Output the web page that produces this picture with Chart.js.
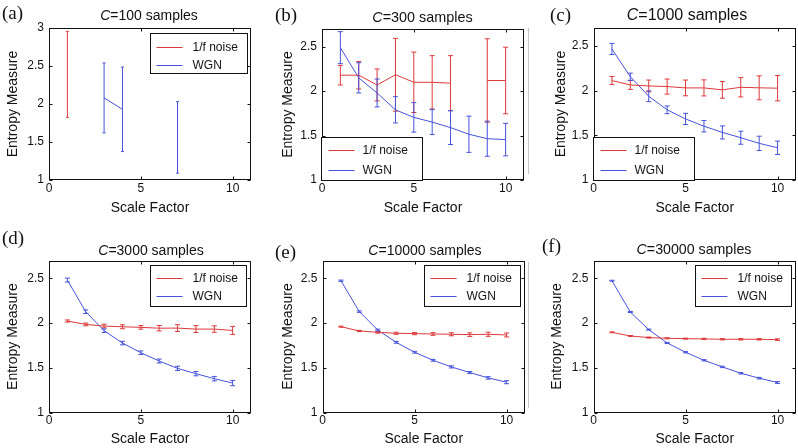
<!DOCTYPE html>
<html>
<head>
<meta charset="utf-8">
<script src="https://cdn.jsdelivr.net/npm/chart.js@4.4.1/dist/chart.umd.min.js"></script>
<style>
  html, body { margin: 0; padding: 0; background: #fff; }
  #fig { position: relative; width: 798px; height: 448px; overflow: hidden; font-family: 'Liberation Sans', Arial, sans-serif; }
  #fig canvas { position: absolute; }
  .ttl { position: absolute; width: 200px; text-align: center; line-height: 20px; color: #111; white-space: nowrap; }
  .tag { position: absolute; font-family: 'Liberation Serif', 'Times New Roman', serif; font-size: 19px; line-height: 20px; color: #111; }
  .edge { position: absolute; width: 1px; background: #c4c4c4; }
</style>
</head>
<body>
<div id="fig"></div>
<script>
/* ---- data ---- */
const scaleFactor = [1, 2, 3, 4, 5, 6, 7, 8, 9, 10];
const xTicks      = [0, 5, 10];
const yTicksTall  = [1, 1.5, 2, 2.5, 3];
const yTicks      = [1, 1.5, 2, 2.5];

// C = 100
const noise100     = [2.39, null, null, null, null, null, null, null, null, null];
const noise100Err  = [0.565, null, null, null, null, null, null, null, null, null];
const wgn100       = [null, null, 2.08, 1.93, null, null, 1.56, null, null, null];
const wgn100Err    = [null, null, 0.46, 0.556, null, null, 0.47, null, null, null];

// C = 300
const noise300     = [2.18, 2.18, 2.07, 2.185, 2.10, 2.10, 2.09, null, 2.12, 2.12];
const noise300Err  = [0.11, 0.155, 0.18, 0.41, 0.34, 0.30, 0.31, null, 0.47, 0.375];
const wgn300       = [2.49, 2.15, 1.98, 1.79, 1.705, 1.652, 1.59, 1.515, 1.465, 1.455];
const wgn300Err    = [0.18, 0.17, 0.157, 0.148, 0.166, 0.14, 0.19, 0.204, 0.198, 0.183];

// C = 1000
const noise1000    = [2.112, 2.063, 2.052, 2.045, 2.03, 2.03, 2.008, 2.037, 2.031, 2.027];
const noise1000Err = [0.045, 0.05, 0.066, 0.084, 0.088, 0.09, 0.093, 0.108, 0.134, 0.142];
const wgn1000      = [2.466, 2.155, 1.937, 1.785, 1.683, 1.602, 1.532, 1.473, 1.41, 1.36];
const wgn1000Err   = [0.062, 0.04, 0.06, 0.043, 0.063, 0.064, 0.073, 0.073, 0.08, 0.075];

// C = 3000
const noise3000    = [2.024, 1.986, 1.968, 1.96, 1.953, 1.944, 1.945, 1.934, 1.934, 1.919];
const noise3000Err = [0.012, 0.015, 0.02, 0.022, 0.02, 0.03, 0.038, 0.038, 0.036, 0.045];
const wgn3000      = [2.481, 2.128, 1.916, 1.778, 1.67, 1.577, 1.495, 1.436, 1.38, 1.331];
const wgn3000Err   = [0.022, 0.02, 0.02, 0.02, 0.02, 0.022, 0.024, 0.024, 0.025, 0.03];

// C = 10000
const noise10000    = [1.96, 1.912, 1.897, 1.886, 1.882, 1.878, 1.875, 1.871, 1.875, 1.867];
const noise10000Err = [0.006, 0.007, 0.01, 0.012, 0.012, 0.015, 0.017, 0.02, 0.023, 0.022];
const wgn10000      = [2.474, 2.128, 1.923, 1.785, 1.674, 1.584, 1.51, 1.447, 1.387, 1.339];
const wgn10000Err   = [0.007, 0.008, 0.01, 0.01, 0.01, 0.01, 0.012, 0.012, 0.014, 0.017];

// C = 30000
const noise30000    = [1.897, 1.856, 1.838, 1.83, 1.826, 1.823, 1.819, 1.819, 1.819, 1.815];
const noise30000Err = [0.005, 0.005, 0.006, 0.006, 0.006, 0.007, 0.007, 0.008, 0.008, 0.009];
const wgn30000      = [2.474, 2.124, 1.927, 1.778, 1.674, 1.584, 1.51, 1.439, 1.384, 1.335];
const wgn30000Err   = [0.005, 0.006, 0.006, 0.006, 0.007, 0.007, 0.008, 0.008, 0.009, 0.01];

const RED  = '#dc3a3a';
const BLUE = '#4653da';
const FONT = "'Liberation Sans', Arial, sans-serif";

/* ---- panel layout (canvas box, plot area inside it, text spots) ---- */
const legendNE = { corner: 'ne', dx: 5, dy: 4.5, w: 96, h: 41, rows: [12, 30], line: [6, 32], text: 42 };
const legendSW = { corner: 'sw', dx: -1, dy: 0, w: 101, h: 43, rows: [12, 32], line: [7, 33], text: 41 };

const panels = [
  { tag: '(a)', n: '100',   x: 0,   y: 0,   w: 262, h: 222, area: { l: 49,   r: 251, t: 28,   b: 180 },   yTitleX: 12.8, xTitleY: 208,
    yMax: 3, yt: yTicksTall, noise: noise100, noiseErr: noise100Err, wgn: wgn100, wgnErr: wgn100Err, cap: 1.5,
    legend: { ...legendNE, dx: 4.3, dy: 5, w: 97, h: 40, rows: [13, 31] },
    title: { cx: 149, cy: 15, size: 14 }, tagPos: { x: 2, cy: 13.3 } },
  { tag: '(b)', n: '300',   x: 262, y: 0,   w: 264, h: 222, area: { l: 60,   r: 262, t: 29,   b: 180 },   yTitleX: 26,   xTitleY: 208,
    yMax: 2.7, yt: yTicks, noise: noise300, noiseErr: noise300Err, wgn: wgn300, wgnErr: wgn300Err, cap: 2.5,
    legend: legendSW, title: { cx: 422.5, cy: 16.5, size: 14.4 }, tagPos: { x: 275, cy: 15 } },
  { tag: '(c)', n: '1000',  x: 526, y: 0,   w: 272, h: 222, area: { l: 67.5, r: 270, t: 28,   b: 180 },   yTitleX: 35,   xTitleY: 208,
    yMax: 2.7, yt: yTicks, noise: noise1000, noiseErr: noise1000Err, wgn: wgn1000, wgnErr: wgn1000Err, cap: 2.5,
    legend: legendSW, title: { cx: 687, cy: 15.3, size: 16 }, tagPos: { x: 550, cy: 15 } },
  { tag: '(d)', n: '3000',  x: 0,   y: 222, w: 262, h: 226, area: { l: 49,   r: 251, t: 38.5, b: 190.7 }, yTitleX: 12.8, xTitleY: 218,
    yMax: 2.7, yt: yTicks, noise: noise3000, noiseErr: noise3000Err, wgn: wgn3000, wgnErr: wgn3000Err, cap: 2.5,
    legend: legendNE, title: { cx: 151, cy: 249.5, size: 14 }, tagPos: { x: 2, cy: 238.3 } },
  { tag: '(e)', n: '10000', x: 262, y: 222, w: 264, h: 226, area: { l: 60.5, r: 263, t: 38.5, b: 190.5 }, yTitleX: 26,   xTitleY: 218,
    yMax: 2.7, yt: yTicks, noise: noise10000, noiseErr: noise10000Err, wgn: wgn10000, wgnErr: wgn10000Err, cap: 2.5,
    legend: legendNE, title: { cx: 425, cy: 250, size: 14 }, tagPos: { x: 275, cy: 251.7 } },
  { tag: '(f)', n: '30000', x: 526, y: 222, w: 272, h: 226, area: { l: 67.5, r: 270, t: 38.5, b: 190.5 }, yTitleX: 31.5, xTitleY: 218,
    yMax: 2.7, yt: yTicks, noise: noise30000, noiseErr: noise30000Err, wgn: wgn30000, wgnErr: wgn30000Err, cap: 2.5,
    legend: legendNE, title: { cx: 694, cy: 249, size: 14.2 }, tagPos: { x: 542, cy: 246 } },
];

/* ---- error bars, boxed axes with inward ticks, legend ---- */
const matlabAxes = {
  id: 'matlabAxes',
  afterDatasetsDraw(chart, args, opts) {
    const { ctx, chartArea: a, scales: { x, y } } = chart;

    chart.data.datasets.forEach(ds => {
      ctx.save();
      ctx.strokeStyle = ds.borderColor;
      ctx.lineWidth = 1;
      ds.data.forEach((pt, j) => {
        if (pt.y == null || ds.err[j] == null) return;
        const px = x.getPixelForValue(pt.x);
        const y0 = y.getPixelForValue(pt.y - ds.err[j]);
        const y1 = y.getPixelForValue(pt.y + ds.err[j]);
        ctx.beginPath();
        ctx.moveTo(px, y0); ctx.lineTo(px, y1);
        ctx.moveTo(px - opts.cap, y0); ctx.lineTo(px + opts.cap, y0);
        ctx.moveTo(px - opts.cap, y1); ctx.lineTo(px + opts.cap, y1);
        ctx.stroke();
      });
      ctx.restore();
    });

    // axes box + ticks pointing inside
    const L = Math.round(a.left) + 0.5, R = Math.round(a.right) - 0.5;
    const T = Math.round(a.top) + 0.5,  B = Math.round(a.bottom) - 0.5;
    ctx.save();
    ctx.strokeStyle = '#111';
    ctx.lineWidth = 1;
    ctx.strokeRect(L, T, R - L, B - T);
    ctx.beginPath();
    x.ticks.forEach(t => {
      const px = Math.round(x.getPixelForValue(t.value)) + 0.5;
      ctx.moveTo(px, B); ctx.lineTo(px, B - 3);
      ctx.moveTo(px, T); ctx.lineTo(px, T + 3);
    });
    y.ticks.forEach(t => {
      const py = Math.round(y.getPixelForValue(t.value)) + 0.5;
      ctx.moveTo(L, py); ctx.lineTo(L + 3, py);
      ctx.moveTo(R, py); ctx.lineTo(R - 3, py);
    });
    ctx.stroke();

    // legend
    const lg = opts.legend;
    const bx = lg.corner === 'ne' ? a.right - lg.dx - lg.w : a.left + lg.dx;
    const by = lg.corner === 'ne' ? a.top + lg.dy : a.bottom - lg.dy - lg.h;
    const X = Math.round(bx) + 0.5, Y = Math.round(by) + 0.5;
    ctx.fillStyle = '#fff';
    ctx.fillRect(X, Y, lg.w, lg.h);
    ctx.strokeStyle = '#111';
    ctx.strokeRect(X, Y, lg.w, lg.h);
    ctx.font = `12px ${FONT}`;
    ctx.textBaseline = 'middle';
    ctx.textAlign = 'left';
    chart.data.datasets.forEach((ds, i) => {
      const ry = Math.round(Y + lg.rows[i]) + 0.5;
      ctx.strokeStyle = ds.borderColor;
      ctx.beginPath();
      ctx.moveTo(X + lg.line[0], ry); ctx.lineTo(X + lg.line[1], ry);
      ctx.stroke();
      ctx.fillStyle = '#111';
      ctx.fillText(ds.label, X + lg.text, ry);
    });
    ctx.restore();
  }
};

const toPoints = (vals) => scaleFactor.map((sf, i) => ({ x: sf, y: vals[i] }));

const makePanel = (p) => {
  const fig = document.getElementById('fig');
  const cv  = document.createElement('canvas');
  cv.width = p.w; cv.height = p.h;
  cv.style.left = p.x + 'px';
  cv.style.top  = p.y + 'px';
  fig.appendChild(cv);

  const padLeft   = p.yTitleX - 8.4;
  const padBottom = Math.max(0, p.h - p.xTitleY - 8.4);

  new Chart(cv, {
    type: 'line',
    data: {
      datasets: [
        { label: '1/f noise', data: toPoints(p.noise), err: p.noiseErr, borderColor: RED,  borderWidth: 1, pointRadius: 0, tension: 0, fill: false },
        { label: 'WGN',       data: toPoints(p.wgn),   err: p.wgnErr,   borderColor: BLUE, borderWidth: 1, pointRadius: 0, tension: 0, fill: false },
      ]
    },
    options: {
      responsive: false,
      animation: false,
      devicePixelRatio: 1,
      layout: { padding: { left: padLeft, top: p.area.t, right: p.w - p.area.r, bottom: padBottom } },
      plugins: {
        legend: { display: false },
        tooltip: { enabled: false },
        matlabAxes: { cap: p.cap, legend: p.legend },
      },
      scales: {
        x: {
          type: 'linear', min: 0, max: 11,
          afterBuildTicks: s => { s.ticks = xTicks.map(v => ({ value: v })); },
          afterFit: s => { s.height = (p.h - padBottom) - p.area.b; },
          grid: { display: false, drawTicks: false },
          border: { display: false },
          ticks: { color: '#111', padding: 1, font: { family: FONT, size: 12 } },
          title: { display: true, text: 'Scale Factor', color: '#111', padding: 0, font: { family: FONT, size: 14 } },
        },
        y: {
          type: 'linear', min: 1, max: p.yMax,
          afterBuildTicks: s => { s.ticks = p.yt.map(v => ({ value: v })); },
          afterFit: s => { s.width = p.area.l - padLeft; },
          grid: { display: false, drawTicks: false },
          border: { display: false },
          ticks: { color: '#111', padding: 5, font: { family: FONT, size: 12 }, callback: v => String(v) },
          title: { display: true, text: 'Entropy Measure', color: '#111', padding: 0, font: { family: FONT, size: 14 } },
        }
      }
    },
    plugins: [matlabAxes]
  });

  const ttl = document.createElement('div');
  ttl.className = 'ttl';
  ttl.style.left = (p.title.cx - 100) + 'px';
  ttl.style.top  = (p.title.cy - 10) + 'px';
  ttl.style.fontSize = p.title.size + 'px';
  ttl.innerHTML = `<i>C</i>=${p.n} samples`;
  fig.appendChild(ttl);

  const tag = document.createElement('div');
  tag.className = 'tag';
  tag.style.left = p.tagPos.x + 'px';
  tag.style.top  = (p.tagPos.cy - 10) + 'px';
  tag.textContent = p.tag;
  fig.appendChild(tag);
};

panels.forEach(makePanel);

// faint border left over from the neighbouring figure in the scan
[[528, 28, 146], [528, 262, 146]].forEach(([lx, ty, hh]) => {
  const d = document.createElement('div');
  d.className = 'edge';
  d.style.left = lx + 'px'; d.style.top = ty + 'px'; d.style.height = hh + 'px';
  document.getElementById('fig').appendChild(d);
});
</script>
</body>
</html>
